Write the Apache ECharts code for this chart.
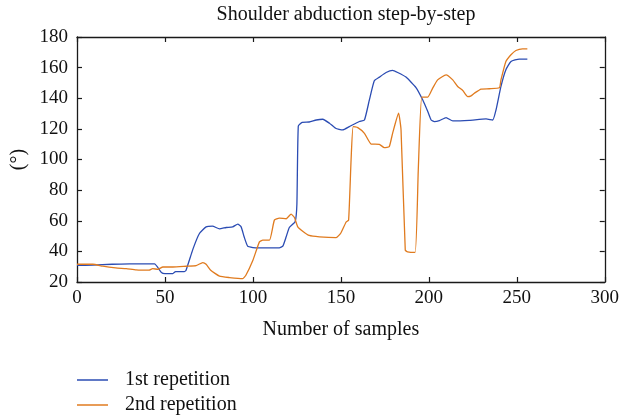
<!DOCTYPE html>
<html>
<head>
<meta charset="utf-8">
<script src="https://cdn.jsdelivr.net/npm/echarts@6/dist/echarts.min.js"></script>
<style>html,body{margin:0;padding:0;background:#fff}#c{width:622px;height:416px}</style>
</head>
<body>
<div id="c"></div>
<script>
var xTicks = [0, 50, 100, 150, 200, 250, 300];
var yTicks = [20, 40, 60, 80, 100, 120, 140, 160, 180];

var rep1X = [0, 9, 20, 30, 44, 48, 50, 54.5, 56, 61, 62, 66, 69.6, 73.4, 77, 81, 84.8, 88.5, 91.4, 93.3, 95, 97, 100, 103.7, 115, 117, 118.9, 120.7, 124, 125, 125.8, 128, 132, 136, 139.7, 143.5, 147, 151, 154.8, 160.5, 163.4, 166.2, 169, 171.9, 175.7, 179.4, 182.3, 187, 192.7, 196.5, 199.4, 201.3, 203.1, 206, 209.8, 213.6, 223, 232.5, 236.3, 238.2, 241, 243.8, 246.7, 251.4, 256];
var rep1Y = [30.8, 31, 31.6, 31.8, 31.8, 26.2, 25.5, 25.5, 26.8, 26.8, 27.7, 41.8, 51.7, 56, 56.5, 54.7, 55.6, 56, 57.8, 56, 49.5, 43.4, 42.5, 42.3, 42.3, 43.4, 49.5, 55.6, 59.3, 71, 121.9, 124.3, 124.5, 125.8, 126.3, 123.7, 120.4, 119.3, 121.5, 124.8, 125.8, 138.9, 151.4, 153.8, 156.8, 158.2, 156.8, 153.8, 147, 139, 131.3, 125.8, 124.8, 125.4, 127.4, 125.2, 125.6, 126.5, 125.8, 132.4, 147.7, 158.6, 164, 165.6, 165.6];

var rep2X = [0, 9, 14.7, 22, 28, 33.6, 41, 43, 46, 48.8, 54.5, 62, 67.7, 71.5, 73.4, 76, 81, 86.7, 94.2, 96, 100, 103.7, 105.6, 109.4, 112.2, 115, 118.9, 121.7, 123.6, 125.5, 128.3, 132, 137.8, 147.3, 150, 153, 154.4, 155.8, 157, 159.6, 163.4, 167.2, 171.9, 174.7, 177.5, 179.4, 182.8, 184.2, 186.6, 187.9, 192.2, 194, 196, 199.4, 202.2, 205, 209.8, 213.6, 216.4, 219.3, 222.1, 224, 225.9, 229.7, 234.4, 240.1, 241, 243.8, 246.7, 249.5, 253.3, 256];
var rep2Y = [31.6, 31.6, 30.3, 29.2, 28.7, 27.9, 27.7, 28.7, 28.3, 29.8, 29.8, 30.3, 30.7, 32.7, 31.6, 27.7, 23.8, 22.9, 22.2, 24.4, 34.2, 46.2, 47.3, 47.3, 60.4, 61.7, 61.3, 64.3, 62.1, 56, 53.2, 50.4, 49.5, 49, 52, 59.2, 60.4, 99.7, 121.5, 120.8, 117.1, 110.1, 109.9, 107.7, 108.4, 117.1, 130.2, 119.3, 40.8, 39.7, 39.3, 93.2, 140.8, 140.8, 146.6, 152, 155.3, 152, 147.7, 145.1, 141.1, 141.6, 143.3, 146, 146.2, 146.8, 152, 164, 168.4, 171.2, 172.3, 172.3];

var seriesNames = ['1st repetition', '2nd repetition'];

function pairs(xs, ys) { return xs.map(function (x, i) { return [x, ys[i]]; }); }

var FONT = 'Liberation Serif';
var axisCol = '#1a1a1a';
function xAx(pos, show) {
  return {
    type: 'value', position: pos, min: xTicks[0], max: xTicks[xTicks.length - 1], interval: 50,
    axisLine: { show: true, onZero: false, lineStyle: { color: axisCol, width: 1.3 } },
    axisTick: { show: true, inside: true, length: 5, lineStyle: { color: axisCol, width: 1.2 } },
    axisLabel: { show: show, color: '#111', fontFamily: FONT, fontSize: 19, margin: 7 },
    splitLine: { show: false },
    name: show ? 'Number of samples' : '', nameLocation: 'middle', nameGap: 38,
    nameTextStyle: { color: '#111', fontFamily: FONT, fontSize: 20 }
  };
}
function yAx(pos, show) {
  return {
    type: 'value', position: pos, min: yTicks[0], max: yTicks[yTicks.length - 1], interval: 20,
    axisLine: { show: true, onZero: false, lineStyle: { color: axisCol, width: 1.3 } },
    axisTick: { show: true, inside: true, length: 5, lineStyle: { color: axisCol, width: 1.2 } },
    axisLabel: { show: show, color: '#111', fontFamily: FONT, fontSize: 19, margin: 9 },
    splitLine: { show: false },
    name: show ? '(°)' : '', nameLocation: 'middle', nameGap: 47, nameRotate: 90,
    nameTextStyle: { color: '#111', fontFamily: FONT, fontSize: 20 }
  };
}
function leg(name, top) {
  return {
    orient: 'vertical', left: 77, top: top, itemWidth: 31, itemHeight: 1.5, itemGap: 0,
    icon: 'rect', padding: 0,
    textStyle: { fontFamily: FONT, fontSize: 20, color: '#111', padding: [0, 0, 0, 12] },
    data: [name]
  };
}

var chart = echarts.init(document.getElementById('c'), null, { renderer: 'canvas' });
chart.setOption({
  animation: false,
  backgroundColor: '#fff',
  title: {
    text: 'Shoulder abduction step-by-step', left: 341, top: 0, textAlign: 'center',
    textStyle: { fontFamily: FONT, fontSize: 20, fontWeight: 'normal', color: '#111' }
  },
  grid: { left: 77, right: 16, top: 37, bottom: 134 },
  xAxis: [xAx('bottom', true), xAx('top', false)],
  yAxis: [yAx('left', true), yAx('right', false)],
  legend: [leg(seriesNames[0], 370), leg(seriesNames[1], 395)],
  series: [
    { name: seriesNames[0], type: 'line', data: pairs(rep1X, rep1Y), showSymbol: false, smooth: 0.15,
      lineStyle: { color: '#2b4cb3', width: 1.3 }, itemStyle: { color: '#2b4cb3' } },
    { name: seriesNames[1], type: 'line', data: pairs(rep2X, rep2Y), showSymbol: false, smooth: 0.15,
      lineStyle: { color: '#e07b1f', width: 1.3 }, itemStyle: { color: '#e07b1f' } }
  ]
});
</script>
</body>
</html>
